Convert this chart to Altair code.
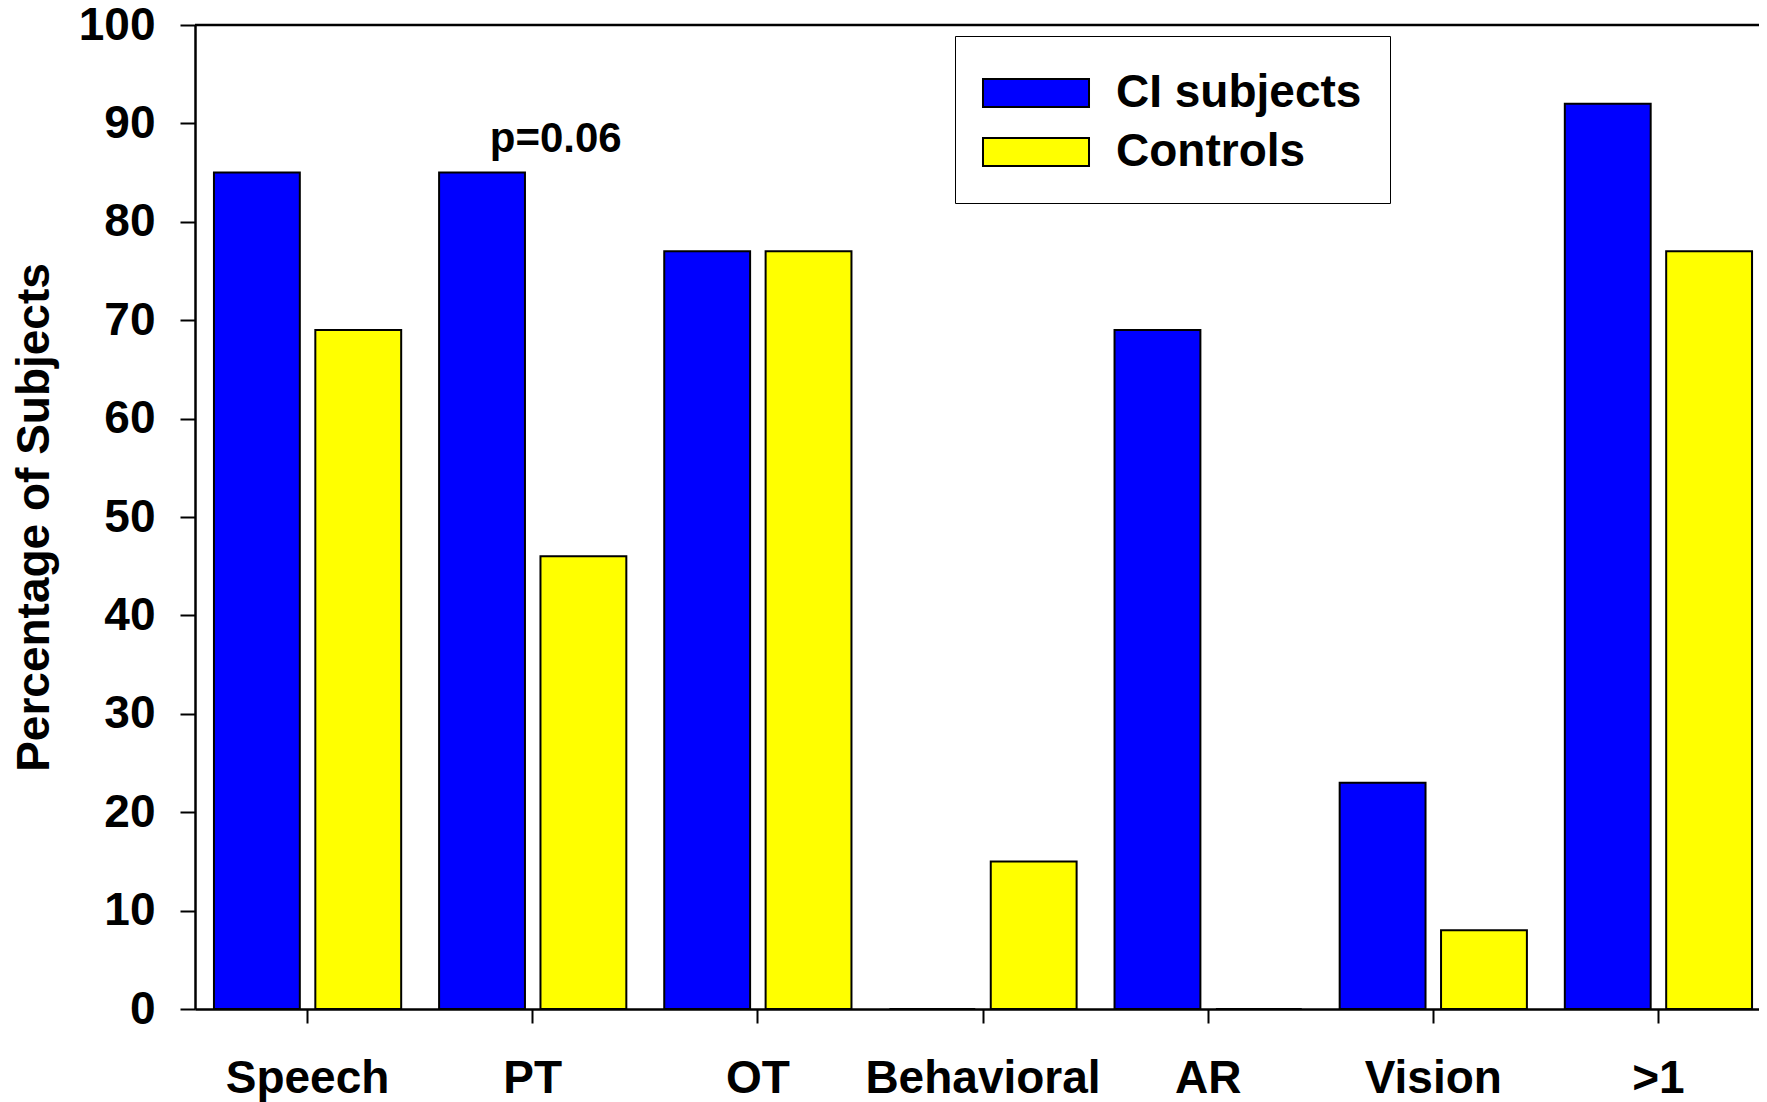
import altair as alt
import pandas as pd

# ---- data ----
categories = ["Speech", "PT", "OT", "Behavioral", "AR", "Vision", ">1"]
series = ["CI subjects", "Controls"]
ci_values = [85, 85, 77, 0, 69, 23, 92]
control_values = [69, 46, 77, 15, 0, 8, 77]
colors = ["#0000FF", "#FFFF00"]
y_ticks = [0, 10, 20, 30, 40, 50, 60, 70, 80, 90, 100]
annotation_category = ["PT"]
annotation_value = [87.1]
annotation_text = ["p=0.06"]

rows = []
for c, a, b in zip(categories, ci_values, control_values):
    rows.append({"category": c, "series": series[0], "value": a})
    rows.append({"category": c, "series": series[1], "value": b})
df = pd.DataFrame(rows)
ann = pd.DataFrame({"category": annotation_category, "value": annotation_value,
                    "label": annotation_text})

FONT = "Liberation Sans"
W, H = 1564, 984

x_enc = alt.X(
    "category:N", sort=categories,
    scale=alt.Scale(range=[0, 1576], paddingInner=0, paddingOuter=0),
    axis=alt.Axis(title=None, labelAngle=0, labelFont=FONT, labelFontSize=46,
                  labelFontWeight="bold", labelColor="black", labelLimit=500,
                  labelBaseline="alphabetic", labelPadding=69,
                  tickSize=14, tickWidth=2, tickColor="black",
                  domainWidth=2.5, domainColor="black", grid=False),
)
y_enc = alt.Y(
    "value:Q", scale=alt.Scale(domain=[0, 100], nice=False),
    axis=alt.Axis(values=y_ticks, title="Percentage of Subjects",
                  titleFont=FONT, titleFontSize=46, titleFontWeight="bold",
                  titleColor="black", titleX=-147, titleY=H / 2,
                  titleAngle=270, titleAlign="center", titleBaseline="alphabetic",
                  labelFont=FONT, labelFontSize=46, labelFontWeight="bold",
                  labelColor="black", labelPadding=25,
                  tickSize=15, tickWidth=2, tickColor="black",
                  domainWidth=2.5, domainColor="black", grid=False),
)

bars = alt.Chart(df).mark_bar(stroke="black", strokeWidth=2).encode(
    x=x_enc,
    xOffset=alt.XOffset("series:N", sort=series,
                        scale=alt.Scale(paddingInner=0.153, paddingOuter=0.187)),
    y=y_enc,
    color=alt.Color(
        "series:N", sort=series,
        scale=alt.Scale(domain=series, range=colors),
        legend=alt.Legend(
            title=None, orient="none", legendX=760, legendY=11,
            symbolType="M-1.893,-0.5H1.893V0.5H-1.893Z", symbolSize=3136,
            symbolStrokeColor="black", symbolStrokeWidth=2, symbolOpacity=1,
            symbolOffset=24,
            labelFont=FONT, labelFontSize=46, labelFontWeight="bold",
            labelColor="black", labelOffset=51, padding=28, rowPadding=7,
            strokeColor="black", fillColor="white",
            labelLimit=500,
        ),
    ),
)

text = alt.Chart(ann).mark_text(
    font=FONT, fontSize=42, fontWeight="bold", color="black",
    baseline="alphabetic", align="center", dx=23,
).encode(
    x=alt.X("category:N", sort=categories),
    y=alt.Y("value:Q"),
    text="label:N",
)

top_line = alt.Chart(pd.DataFrame({"v": [0]})).mark_rule(
    color="black", strokeWidth=2.5
).encode(y=alt.value(0), x=alt.value(0), x2=alt.value(1600))

chart = alt.layer(bars, text, top_line).properties(
    width=W, height=H,
    autosize=alt.AutoSizeParams(type="none"),
    padding={"left": 187, "top": 17, "right": 0, "bottom": 93},
).configure_view(stroke=None).configure_legend(strokeWidth=2).configure(background="white")

chart.save("out.html", embed_options={"renderer": "svg", "actions": False})
